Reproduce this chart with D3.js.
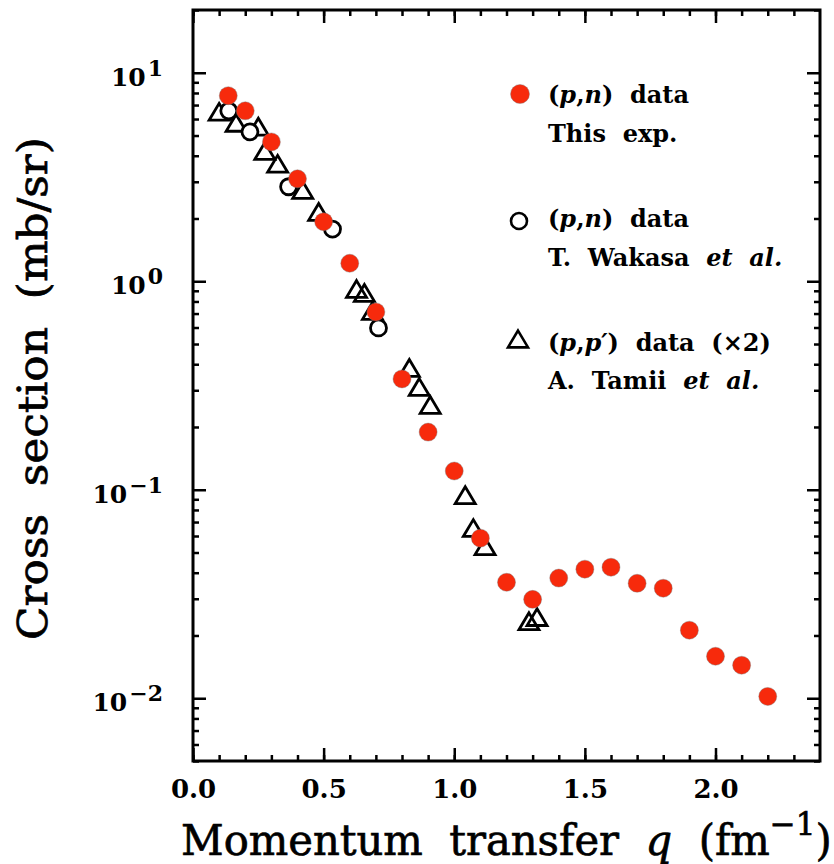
<!DOCTYPE html>
<html>
<head>
<meta charset="utf-8">
<script src="https://cdn.jsdelivr.net/npm/d3@7"></script>
<style>
	html, body { margin: 0; padding: 0; background: #fff; }
	svg { display: block; }
	text { fill: #000; }
</style>
</head>
<body>
<svg id="chart" width="834" height="864"></svg>
<script>
// (p,n) data, this experiment
const pnQ = [0.135, 0.2, 0.3, 0.4, 0.5, 0.6, 0.7, 0.8, 0.9, 1.0, 1.1, 1.2, 1.3, 1.4, 1.5, 1.6, 1.7, 1.8, 1.9, 2.0, 2.1, 2.2]
const pnXs = [7.76, 6.57, 4.66, 3.10, 1.93, 1.22, 0.713, 0.340, 0.189, 0.123, 0.0586, 0.0360, 0.0298, 0.0377, 0.0416, 0.0425, 0.0356, 0.0337, 0.0212, 0.0159, 0.0144, 0.0102]

// (p,n) data, T. Wakasa et al.
const wakQ = [0.137, 0.218, 0.366, 0.534, 0.71]
const wakXs = [6.57, 5.21, 2.84, 1.78, 0.597]

// (p,p') data x2, A. Tamii et al.
const tamQ = [0.10, 0.165, 0.25, 0.275, 0.324, 0.42, 0.481, 0.626, 0.656, 0.687, 0.828, 0.866, 0.908, 1.042, 1.073, 1.118, 1.286, 1.317]
const tamXs = [6.50, 5.75, 5.51, 4.22, 3.66, 2.74, 2.15, 0.918, 0.879, 0.72, 0.384, 0.311, 0.255, 0.0942, 0.0655, 0.0536, 0.0234, 0.0245]

const xTicks = [0, 0.5, 1.0, 1.5, 2.0]
const yTicks = [0.01, 0.1, 1, 10]
const yTickExp = ['\u22122', '\u22121', '0', '1']

const RED = '#f72a0c'
const SERIF = '"DejaVu Serif", "Liberation Serif", serif'

const svg = d3.select('#chart')
const frame = { left: 193, right: 820, top: 10, bottom: 761 }

const x = d3.scaleLinear().domain([0, 2.4]).range([frame.left, frame.right])
const y = d3.scaleLog().domain([0.005, 20]).range([frame.bottom, frame.top])

// minor ticks
const xMinor = d3.range(0, 24).map(i => i / 10)
const yMinor = []
for (let e = -3; e <= 1; e++) {
	for (let m = 2; m <= 9; m++) {
		const v = m * Math.pow(10, e)
		if (v >= 0.005 && v <= 20) yMinor.push(v)
	}
}

function styleAxis(g) {
	g.select('.domain').remove()
	g.selectAll('.tick line').attr('stroke', '#000').attr('stroke-width', 2.5)
}

// bottom
svg.append('g')
	.attr('transform', `translate(0,${frame.bottom})`)
	.call(d3.axisBottom(x).tickValues(xMinor).tickSize(-6).tickFormat(''))
	.call(styleAxis)
const xAxis = svg.append('g')
	.attr('transform', `translate(0,${frame.bottom})`)
	.call(d3.axisBottom(x).tickValues(xTicks).tickSize(-13).tickPadding(19).tickFormat(d3.format('.1f')))
	.call(styleAxis)
xAxis.selectAll('.tick text')
	.attr('font-family', SERIF)
	.attr('font-weight', 'bold')
	.attr('font-size', 26)

// top
svg.append('g')
	.attr('transform', `translate(0,${frame.top})`)
	.call(d3.axisTop(x).tickValues(xMinor).tickSize(-6).tickFormat(''))
	.call(styleAxis)
svg.append('g')
	.attr('transform', `translate(0,${frame.top})`)
	.call(d3.axisTop(x).tickValues(xTicks).tickSize(-13).tickFormat(''))
	.call(styleAxis)

// left
svg.append('g')
	.attr('transform', `translate(${frame.left},0)`)
	.call(d3.axisLeft(y).tickValues(yMinor).tickSize(-6).tickFormat(''))
	.call(styleAxis)
svg.append('g')
	.attr('transform', `translate(${frame.left},0)`)
	.call(d3.axisLeft(y).tickValues(yTicks).tickSize(-13).tickFormat(''))
	.call(styleAxis)

// right
svg.append('g')
	.attr('transform', `translate(${frame.right},0)`)
	.call(d3.axisRight(y).tickValues(yMinor).tickSize(-6).tickFormat(''))
	.call(styleAxis)
svg.append('g')
	.attr('transform', `translate(${frame.right},0)`)
	.call(d3.axisRight(y).tickValues(yTicks).tickSize(-13).tickFormat(''))
	.call(styleAxis)

// y tick labels as 10^n, right edge at x = 163
const yLabels = svg.append('g')
	.selectAll('text')
	.data(yTicks)
	.join('text')
	.attr('x', 163)
	.attr('y', d => y(d) + 13)
	.attr('text-anchor', 'end')
	.attr('font-family', SERIF)
	.attr('font-weight', 'bold')
	.attr('font-size', 25)
yLabels.append('tspan').text('10')
yLabels.append('tspan')
	.attr('dx', 2)
	.attr('dy', -10)
	.attr('font-size', 22)
	.text((d, i) => yTickExp[i])

// frame
svg.append('rect')
	.attr('x', frame.left)
	.attr('y', frame.top)
	.attr('width', frame.right - frame.left)
	.attr('height', frame.bottom - frame.top)
	.attr('fill', 'none')
	.attr('stroke', '#000')
	.attr('stroke-width', 3)

// open triangle centred on its bounding box
const triangle = {
	draw(ctx, size) {
		const w = size
		const h = size * 0.84
		ctx.moveTo(0, -h / 2)
		ctx.lineTo(w / 2, h / 2)
		ctx.lineTo(-w / 2, h / 2)
		ctx.closePath()
	}
}
const triPath = d3.symbol().type(triangle).size(20)()

const marks = svg.append('g')

marks.selectAll('path.tamii')
	.data(d3.zip(tamQ, tamXs))
	.join('path')
	.attr('class', 'tamii')
	.attr('d', triPath)
	.attr('transform', d => `translate(${x(d[0])},${y(d[1])})`)
	.attr('fill', 'none')
	.attr('stroke', '#000')
	.attr('stroke-width', 2.8)

marks.selectAll('circle.wakasa')
	.data(d3.zip(wakQ, wakXs))
	.join('circle')
	.attr('class', 'wakasa')
	.attr('cx', d => x(d[0]))
	.attr('cy', d => y(d[1]))
	.attr('r', 8)
	.attr('fill', '#fff')
	.attr('stroke', '#000')
	.attr('stroke-width', 2.8)

marks.selectAll('circle.pn')
	.data(d3.zip(pnQ, pnXs))
	.join('circle')
	.attr('class', 'pn')
	.attr('cx', d => x(d[0]))
	.attr('cy', d => y(d[1]))
	.attr('r', 9)
	.attr('fill', RED)
	.attr('stroke', 'rgba(120,120,120,0.5)')
	.attr('stroke-width', 0.8)

// legend
const legend = svg.append('g')
	.attr('font-family', SERIF)
	.attr('font-weight', 'bold')
	.attr('font-size', 24)

legend.append('circle')
	.attr('cx', 520).attr('cy', 94).attr('r', 9.5)
	.attr('fill', RED)
	.attr('stroke', 'rgba(120,120,120,0.5)')
	.attr('stroke-width', 0.8)
legend.append('circle')
	.attr('cx', 519).attr('cy', 221).attr('r', 8)
	.attr('fill', '#fff')
	.attr('stroke', '#000')
	.attr('stroke-width', 2.6)
legend.append('path')
	.attr('d', triPath)
	.attr('transform', 'translate(518,339)')
	.attr('fill', 'none')
	.attr('stroke', '#000')
	.attr('stroke-width', 2.6)

const legendLines = [
	[['(', 0], ['p', 1], [',', 0], ['n', 1], [')  data', 0]],
	[['This  exp.', 0]],
	[['(', 0], ['p', 1], [',', 0], ['n', 1], [')  data', 0]],
	[['T.  Wakasa  ', 0], ['et  al.', 1]],
	[['(', 0], ['p', 1], [',', 0], ['p\u2032', 1], [')  data  (\u00d72)', 0]],
	[['A.  Tamii  ', 0], ['et  al.', 1]]
]
const legendY = [103, 142, 227, 266, 351, 389]

legend.selectAll('text')
	.data(legendLines)
	.join('text')
	.attr('x', 548)
	.attr('y', (d, i) => legendY[i])
	.style('white-space', 'pre')
	.each(function (parts) {
		const t = d3.select(this)
		parts.forEach(p => {
			t.append('tspan')
				.attr('font-style', p[1] ? 'italic' : 'normal')
				.text(p[0])
		})
	})

// axis titles, stretched to the reference widths
function fitScale(sel, width) {
	const w = sel.node().getBBox().width
	return width / w
}

const xTitle = svg.append('text')
	.attr('font-family', SERIF)
	.attr('font-size', 43)
	.attr('stroke', '#000')
	.attr('stroke-width', 0.7)
	.style('white-space', 'pre')
xTitle.append('tspan').text('Momentum  transfer  ')
xTitle.append('tspan').attr('font-style', 'italic').text('q')
xTitle.append('tspan').text('  (fm')
xTitle.append('tspan').attr('font-size', 32).attr('dy', -20).text('\u22121')
xTitle.append('tspan').attr('dy', 20).text(')')
xTitle.attr('transform', `translate(181,855) scale(${fitScale(xTitle, 651)},1)`)

const yTitle = svg.append('text')
	.attr('font-family', SERIF)
	.attr('font-size', 41)
	.attr('stroke', '#000')
	.attr('stroke-width', 0.7)
	.style('white-space', 'pre')
	.text('Cross  section  (mb/sr)')
yTitle.attr('transform', `translate(47,640) rotate(-90) scale(${fitScale(yTitle, 503)},1)`)
</script>
</body>
</html>
